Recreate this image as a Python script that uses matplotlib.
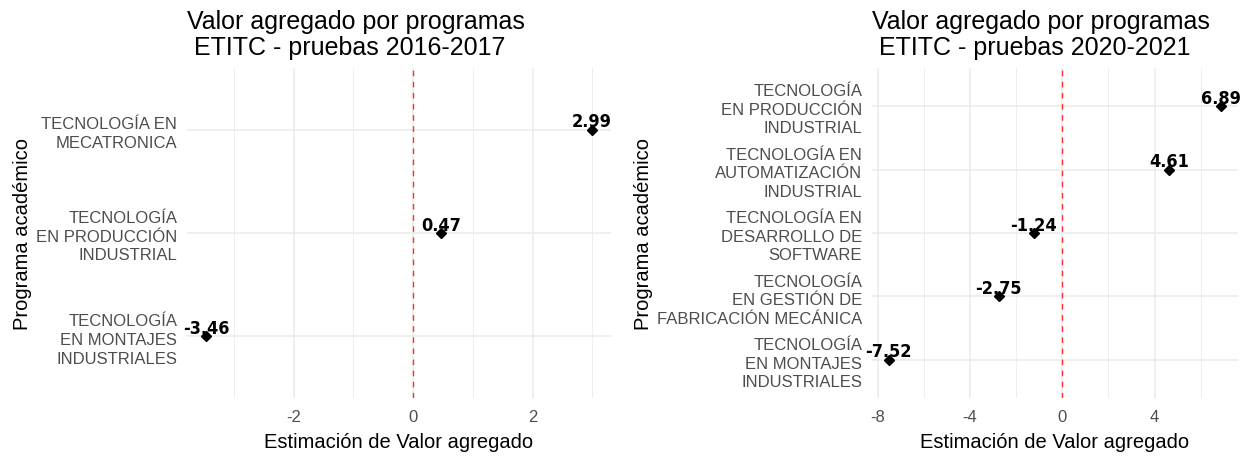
import matplotlib
matplotlib.use('Agg')
import matplotlib.pyplot as plt
from matplotlib import font_manager
from matplotlib.ticker import MultipleLocator

# datos
prog_1617 = ['TECNOLOGÍA\nEN MONTAJES\nINDUSTRIALES',
             'TECNOLOGÍA\nEN PRODUCCIÓN\nINDUSTRIAL',
             'TECNOLOGÍA EN\nMECATRONICA']
va_1617 = [-3.46, 0.47, 2.99]

prog_2021 = ['TECNOLOGÍA\nEN MONTAJES\nINDUSTRIALES',
             'TECNOLOGÍA\nEN GESTIÓN DE\nFABRICACIÓN MECÁNICA',
             'TECNOLOGÍA EN\nDESARROLLO DE\nSOFTWARE',
             'TECNOLOGÍA EN\nAUTOMATIZACIÓN\nINDUSTRIAL',
             'TECNOLOGÍA\nEN PRODUCCIÓN\nINDUSTRIAL']
va_2021 = [-7.52, -2.75, -1.24, 4.61, 6.89]

names = set(f.name for f in font_manager.fontManager.ttflist)
if 'Liberation Sans Narrow' in names:
    lblFont = dict(family='Liberation Sans Narrow', fontweight='bold', fontsize=15)
else:
    lblFont = dict(family='DejaVu Sans', fontweight='bold', fontstretch='condensed', fontsize=13)

plt.rcParams['font.family'] = ['Liberation Sans', 'DejaVu Sans']
plt.rcParams['axes.unicode_minus'] = False

f = plt.figure(figsize=(12.5, 4.6), dpi=100)
ax1 = f.add_axes([187/1250, 1-399/460, (611-187)/1250, 330/460])
ax2 = f.add_axes([872/1250, 1-399/460, (1238-872)/1250, 330/460])

def dibujar(ax, progs, vals, titulo, paso_may, paso_men):
    y = list(range(len(progs)))
    ax.plot(vals, y, 'D', color='black', markersize=5, zorder=3)
    for xv, yv in zip(vals, y):
        ax.annotate(f'{xv:.2f}', (xv, yv), xytext=(0, 2.5), textcoords='offset points',
                    ha='center', va='baseline', **lblFont)
    ax.axvline(0, color='#FF3030', linestyle=(0, (4, 4)), linewidth=1, zorder=2)
    rng = max(vals) - min(vals)
    ax.set_xlim(min(vals) - 0.05*rng, max(vals) + 0.05*rng)
    ax.set_ylim(-0.6, len(progs) - 0.4)
    ax.set_yticks(y)
    ax.set_yticklabels(progs, linespacing=1.3)
    ax.xaxis.set_major_locator(MultipleLocator(paso_may))
    ax.xaxis.set_minor_locator(MultipleLocator(paso_men))
    ax.grid(True, which='major', color='#EBEBEB', linewidth=1.1)
    ax.grid(True, which='minor', axis='x', color='#EBEBEB', linewidth=0.6)
    ax.set_axisbelow(True)
    for s in ax.spines.values():
        s.set_visible(False)
    ax.tick_params(axis='both', which='both', length=0, labelsize=12, labelcolor='#4D4D4D')
    ax.tick_params(axis='y', pad=7)
    ax.tick_params(axis='x', pad=8)
    ax.set_xlabel('Estimación de Valor agregado', fontsize=14.5, labelpad=6)
    ax.set_ylabel('Programa académico', fontsize=14.5, labelpad=3)
    ax.set_title(titulo, loc='left', fontsize=18, linespacing=1.1, pad=10)

dibujar(ax1, prog_1617, va_1617, 'Valor agregado por programas\n ETITC - pruebas 2016-2017', 2, 1)
dibujar(ax2, prog_2021, va_2021, 'Valor agregado por programas\n ETITC - pruebas 2020-2021', 4, 2)

f.savefig('out.png', dpi=100)
